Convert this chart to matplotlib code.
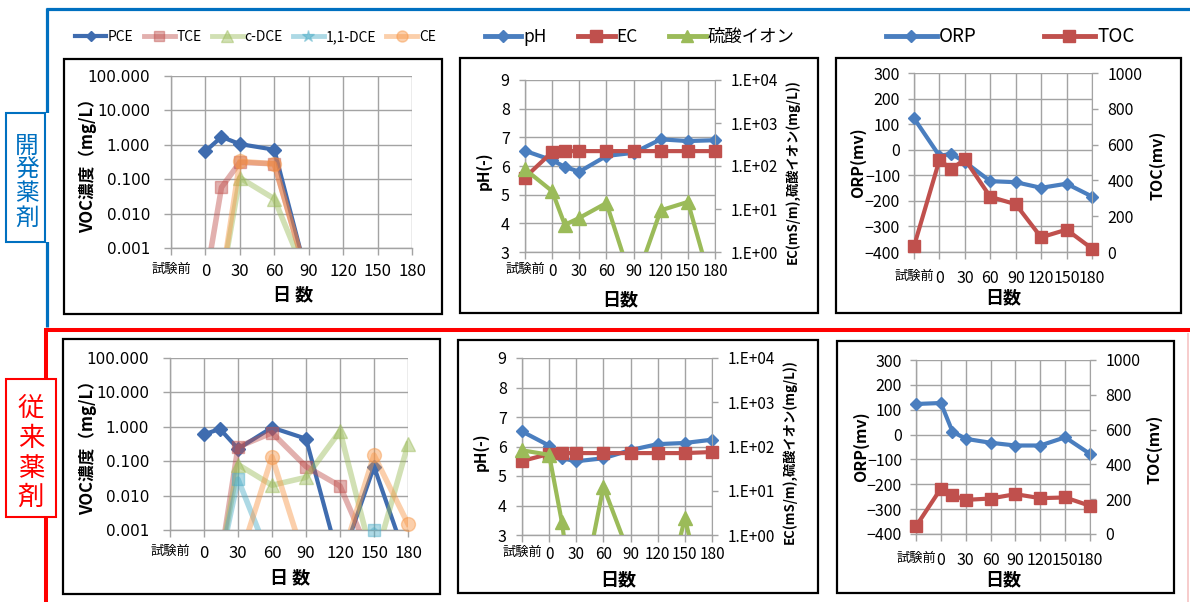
import numpy as np
import matplotlib
matplotlib.use("Agg")
import matplotlib.pyplot as plt
from matplotlib.lines import Line2D
from matplotlib.patches import Rectangle
from matplotlib.ticker import FixedLocator, NullLocator, FixedFormatter

plt.rcParams['font.family'] = ['Noto Sans CJK JP', 'DejaVu Sans']

W, H = 1190, 602

# ---------------- sampling days (試験前 is plotted at -30) ----------------
days = [-30, 0, 14, 30, 60, 90, 120, 150, 180]
voc_days = [0, 14, 30, 60, 90, 120, 150, 180]
tick_days = [-30, 0, 30, 60, 90, 120, 150, 180]
tick_labels = ['試験前', '0', '30', '60', '90', '120', '150', '180']

# ---------------- VOC (mg/L); 0.0001 = not detected ----------------
dev_pce = [0.65, 1.7, 1.05, 0.72, 0.0001, 0.0001, 0.0001, 0.0001]
dev_tce = [0.0001, 0.058, 0.31, 0.28, 0.0001, 0.0001, 0.0001, 0.0001]
dev_cdce = [0.0001, 0.0001, 0.11, 0.027, 0.0001, 0.0001, 0.0001, 0.0001]
dev_dce11 = [0.0001, 0.0001, 0.0001, 0.0001, 0.0001, 0.0001, 0.0001, 0.0001]
dev_ce = [0.0001, 0.0001, 0.33, 0.28, 0.0001, 0.0001, 0.0001, 0.0001]

conv_pce = [0.6, 0.87, 0.23, 0.95, 0.45, 0.0001, 0.07, 0.0001]
conv_tce = [0.0001, 0.0001, 0.26, 0.67, 0.07, 0.019, 0.0001, 0.0001]
conv_cdce = [0.0001, 0.0001, 0.08, 0.02, 0.034, 0.75, 0.0001, 0.31]
conv_dce11 = [0.0001, 0.0001, 0.03, 0.0001, 0.0001, 0.0001, 0.001, 0.0001]
conv_ce = [0.0001, 0.0001, 0.0001, 0.135, 0.0001, 0.0001, 0.15, 0.0015]

# ---------------- pH, EC (mS/m), sulfate (mg/L) ----------------
dev_ph = [6.53, 6.2, 5.97, 5.8, 6.35, 6.46, 6.93, 6.87, 6.9]
dev_ec = [54, 212, 222, 222, 222, 222, 222, 222, 222]
dev_so4 = [84, 26, 4.3, 6.2, 13.8, 0.15, 9.3, 14.6, 0.085]

conv_ph = [6.51, 6.03, 5.6, 5.5, 5.6, 5.88, 6.08, 6.12, 6.23]
conv_ec = [47, 68, 71, 71, 71, 71, 71, 71, 75]
conv_so4 = [82, 65, 2.0, 0.01, 12.4, 0.3, 0.007, 2.4, 0.007]

# ---------------- ORP (mV), TOC ----------------
dev_orp = [123, -24, -16, -48, -123, -127, -149, -133, -183]
dev_toc = [32, 514, 463, 518, 308, 267, 82, 125, 19]

conv_orp = [123, 127, 12, -17, -33, -44, -44, -11, -78]
conv_toc = [44, 261, 223, 196, 204, 229, 206, 210, 162]

# ---------------- colours ----------------
C_PCE = '#3F6CAF'
C_TCE = '#C0504D'
C_CDCE = '#9BBB59'
C_DCE11 = '#4BACC6'
C_CE = '#F79646'
C_BLUE = '#4A7EBF'
C_RED = '#C0504D'
C_GREEN = '#9BBB59'
GRID = '#A3A3A3'
LIGHT = 0.45

fig = plt.figure(figsize=(W / 100, H / 100), dpi=100)


def rect(x0, y0, x1, y1):
    return [x0 / W, 1 - y1 / H, (x1 - x0) / W, (y1 - y0) / H]


def draw_series(ax, x, y, lo, hi, color, marker, ms, lw, alpha=1.0, z=3):
    x = np.asarray(x, float)
    y = np.asarray(y, float)
    ax.plot(x, y, color=color, lw=lw, alpha=alpha, zorder=z,
            solid_joinstyle='round')
    shown = np.where((y >= lo * 0.999) & (y <= hi), y, np.nan)
    ax.plot(x, shown, ls='none', marker=marker, ms=ms, color=color,
            mec=color, alpha=alpha, zorder=z + 0.1, clip_on=False)


def base_axes(r, xlabel, xl_pos, x_pad, num_size):
    ax = fig.add_axes(r)
    ax.set_facecolor('none')
    ax.set_xlim(-30, 180)
    ax.xaxis.set_major_locator(FixedLocator(tick_days))
    ax.xaxis.set_major_formatter(FixedFormatter(tick_labels))
    ax.tick_params(axis='x', length=5, width=1, color=GRID, pad=x_pad,
                   labelsize=num_size)
    for lab in ax.get_xticklabels():
        if lab.get_text() == '試験前':
            lab.set_fontsize(9.5)
    ax.grid(True, which='major', color=GRID, lw=1.0)
    ax.set_axisbelow(True)
    for s in ['top', 'right']:
        ax.spines[s].set_visible(False)
    for s in ['left', 'bottom']:
        ax.spines[s].set_color(GRID)
        ax.spines[s].set_linewidth(1.0)
    ax.set_xlabel(xlabel, fontsize=13, fontweight='bold')
    ax.xaxis.set_label_coords(*xl_pos)
    ax.xaxis.label.set_va('center')
    return ax


def voc_panel(r, pce, tce, cdce, dce11, ce, xl_pos):
    ax = base_axes(r, '日 数', xl_pos, 6, 12)
    ax.set_yscale('log')
    ax.set_ylim(0.001, 100)
    ax.yaxis.set_major_locator(FixedLocator([0.001, 0.01, 0.1, 1, 10, 100]))
    ax.yaxis.set_major_formatter(FixedFormatter(
        ['0.001', '0.010', '0.100', '1.000', '10.000', '100.000']))
    ax.yaxis.set_minor_locator(NullLocator())
    ax.tick_params(axis='y', length=5, width=1, color=GRID, pad=10,
                   labelsize=11, labelfontfamily='DejaVu Sans')
    lo, hi = 0.001, 100
    draw_series(ax, voc_days, pce, lo, hi, C_PCE, 'D', 7, 3.0, z=3)
    draw_series(ax, voc_days, tce, lo, hi, C_TCE, 's', 9, 4.0, LIGHT, z=4)
    draw_series(ax, voc_days, cdce, lo, hi, C_CDCE, '^', 10, 4.0, LIGHT, z=5)
    draw_series(ax, voc_days, dce11, lo, hi, C_DCE11, 's', 9, 4.0, LIGHT, z=6)
    draw_series(ax, voc_days, ce, lo, hi, C_CE, 'o', 10, 4.0, LIGHT, z=7)
    ax.set_ylabel('VOC濃度（mg/L）', fontsize=12, fontweight='bold')
    ax.yaxis.set_label_coords(-0.345, 0.5)
    ax.yaxis.label.set_va('center')
    return ax


def ph_panel(r, ph, ec, so4, xl_pos, yl_y, yr_y):
    ax = base_axes(r, '日数', xl_pos, 3, 11)
    ax.set_ylim(3, 9)
    ax.yaxis.set_major_locator(FixedLocator([3, 4, 5, 6, 7, 8, 9]))
    ax.tick_params(axis='y', length=4, width=1, color=GRID, pad=7,
                   labelsize=11.5)
    draw_series(ax, days, ph, 3, 9, C_BLUE, 'D', 6.5, 3.0, z=3)
    ax.set_ylabel('pH(-)', fontsize=11, fontweight='bold')
    ax.yaxis.set_label_coords(-0.22, yl_y)
    ax.yaxis.label.set_va('center')

    ax2 = ax.twinx()
    ax2.set_yscale('log')
    ax2.set_ylim(1, 1e4)
    ax2.yaxis.set_major_locator(FixedLocator([1, 10, 100, 1000, 10000]))
    ax2.yaxis.set_major_formatter(FixedFormatter(
        ['1.E+00', '1.E+01', '1.E+02', '1.E+03', '1.E+04']))
    ax2.yaxis.set_minor_locator(NullLocator())
    ax2.tick_params(axis='y', length=4, width=1, color=GRID, pad=7,
                    labelsize=11)
    for s in ['top', 'left', 'bottom']:
        ax2.spines[s].set_visible(False)
    ax2.spines['right'].set_color(GRID)
    draw_series(ax2, days, ec, 1, 1e4, C_RED, 's', 8.5, 3.0, z=3)
    draw_series(ax2, days, so4, 1, 1e4, C_GREEN, '^', 9.5, 3.0, z=4)
    ax2.set_ylabel('EC(mS/m),硫酸イオン(mg/L))', fontsize=9.5,
                   fontweight='bold', rotation=90)
    ax2.yaxis.set_label_coords(1.405, yr_y)
    ax2.yaxis.label.set_va('center')
    return ax, ax2


def orp_panel(r, orp, toc, xl_pos):
    ax = base_axes(r, '日数', xl_pos, 8, 11.5)
    ax.set_ylim(-400, 300)
    ax.yaxis.set_major_locator(FixedLocator(list(range(-400, 301, 100))))
    ax.tick_params(axis='y', length=4, width=1, color=GRID, pad=6,
                   labelsize=11.5)
    draw_series(ax, days, orp, -400, 300, C_BLUE, 'D', 6.5, 3.0, z=3)
    ax.set_ylabel('ORP(mv)', fontsize=11.5, fontweight='bold')
    ax.yaxis.set_label_coords(-0.315, 0.5)
    ax.yaxis.label.set_va('center')

    ax2 = ax.twinx()
    ax2.set_ylim(0, 1000)
    ax2.yaxis.set_major_locator(FixedLocator(list(range(0, 1001, 200))))
    ax2.tick_params(axis='y', length=4, width=1, color=GRID, pad=7,
                    labelsize=11.5)
    for s in ['top', 'left', 'bottom']:
        ax2.spines[s].set_visible(False)
    ax2.spines['right'].set_color(GRID)
    draw_series(ax2, days, toc, 0, 1000, C_RED, 's', 8.5, 3.0, z=3)
    ax2.set_ylabel('TOC(mv)', fontsize=11.5, fontweight='bold')
    ax2.yaxis.set_label_coords(1.37, 0.485)
    ax2.yaxis.label.set_va('center')
    return ax, ax2


# ---------------- panel frames ----------------
for (x0, y0, x1, y1) in [(64, 59, 442, 314), (460, 58, 818, 313),
                         (836, 58, 1181, 313), (63, 339, 440, 594),
                         (458, 340, 818, 593), (837, 341, 1174, 593)]:
    fig.add_artist(Rectangle((x0 / W, 1 - y1 / H), (x1 - x0) / W,
                             (y1 - y0) / H, transform=fig.transFigure,
                             fill=False, ec='black', lw=1.6, zorder=0))

# ---------------- panels ----------------
voc_panel(rect(171, 76, 412, 248), dev_pce, dev_tce, dev_cdce, dev_dce11,
          dev_ce, (0.506, -0.273))
voc_panel(rect(170, 358, 408, 530), conv_pce, conv_tce, conv_cdce,
          conv_dce11, conv_ce, (0.504, -0.279))
ph_panel(rect(525, 80, 715, 252), dev_ph, dev_ec, dev_so4,
         (0.5, -0.279), 0.47, 0.47)
ph_panel(rect(522, 358, 712, 535), conv_ph, conv_ec, conv_so4,
         (0.505, -0.254), 0.47, 0.47)
orp_panel(rect(914, 73, 1092, 252), dev_orp, dev_toc, (0.5, -0.257))
orp_panel(rect(916, 360, 1090, 534), conv_orp, conv_toc, (0.5, -0.264))

# ---------------- group frames ----------------
BLUE_F = '#0070C0'
RED_F = '#FF0000'


def fline(xs, ys, color, lw, z=1):
    fig.add_artist(Line2D([x / W for x in xs], [1 - y / H for y in ys],
                          transform=fig.transFigure, color=color, lw=lw,
                          zorder=z, solid_capstyle='butt'))


fline([46, W], [8.5, 8.5], BLUE_F, 2.3)
fline([47.5, 47.5], [7.5, 327], BLUE_F, 2.3)
fline([44, W], [330, 330], RED_F, 2.9)
fline([45.5, 45.5], [329, H], RED_F, 2.9)
fline([1188, 1188], [333, H], '#F6C4C4', 1.2)

# label boxes
fig.add_artist(Rectangle((6 / W, 1 - 242 / H), 47 / W, 129 / H,
                         transform=fig.transFigure, fc='white', ec='none',
                         zorder=2))
fig.add_artist(Rectangle((6 / W, 1 - 242 / H), 39 / W, 129 / H,
                         transform=fig.transFigure, fill=False, ec=BLUE_F,
                         lw=1.5, zorder=3))
fig.add_artist(Rectangle((6 / W, 1 - 517 / H), 50 / W, 138 / H,
                         transform=fig.transFigure, fc='white', ec=RED_F,
                         lw=1.5, zorder=2))
for ch, yc in zip('開発薬剤', [146, 170, 194, 218]):
    fig.text(27 / W, 1 - yc / H, ch, color=BLUE_F, fontsize=17,
             ha='center', va='center', zorder=4)
for ch, yc in zip('従来薬剤', [408, 438, 468, 497]):
    fig.text(31 / W, 1 - yc / H, ch, color=RED_F, fontsize=19,
             ha='center', va='center', zorder=4)

# ---------------- legends ----------------
LEG_FONT = ['Noto Sans CJK JP', 'DejaVu Sans']


def add_legend(handles, labels, x_px, y_px, size, hl, spacing):
    fig.legend(handles, labels, loc='center left',
               bbox_to_anchor=(x_px / W, 1 - y_px / H), ncol=len(handles),
               frameon=False, borderpad=0, borderaxespad=0,
               handlelength=hl, handletextpad=0.12, columnspacing=spacing,
               prop={'family': LEG_FONT, 'size': size})


voc_handles = [
    Line2D([], [], color=C_PCE, lw=3, marker='D', ms=5.5),
    Line2D([], [], color=C_TCE, lw=3.5, marker='s', ms=7, alpha=LIGHT),
    Line2D([], [], color=C_CDCE, lw=3.5, marker='^', ms=8, alpha=LIGHT),
    Line2D([], [], color=C_DCE11, lw=3.5, marker='*', ms=9, alpha=LIGHT),
    Line2D([], [], color=C_CE, lw=3.5, marker='o', ms=8, alpha=LIGHT),
]
add_legend(voc_handles, ['PCE', 'TCE', 'c-DCE', '1,1-DCE', 'CE'],
           75, 37, 10, 2.25, 0.72)

wq_handles = [
    Line2D([], [], color=C_BLUE, lw=3.5, marker='D', ms=6),
    Line2D([], [], color=C_RED, lw=3.5, marker='s', ms=8),
    Line2D([], [], color=C_GREEN, lw=3.5, marker='^', ms=8),
]
add_legend(wq_handles, ['pH', 'EC', '硫酸イオン'], 485, 37, 12.5, 2.1, 1.8)

orp_handles = [
    Line2D([], [], color=C_BLUE, lw=3.5, marker='D', ms=6),
    Line2D([], [], color=C_RED, lw=3.5, marker='s', ms=8),
]
add_legend(orp_handles, ['ORP', 'TOC'], 886, 37, 13.5, 2.7, 3.6)

fig.savefig('out.png', dpi=100)
